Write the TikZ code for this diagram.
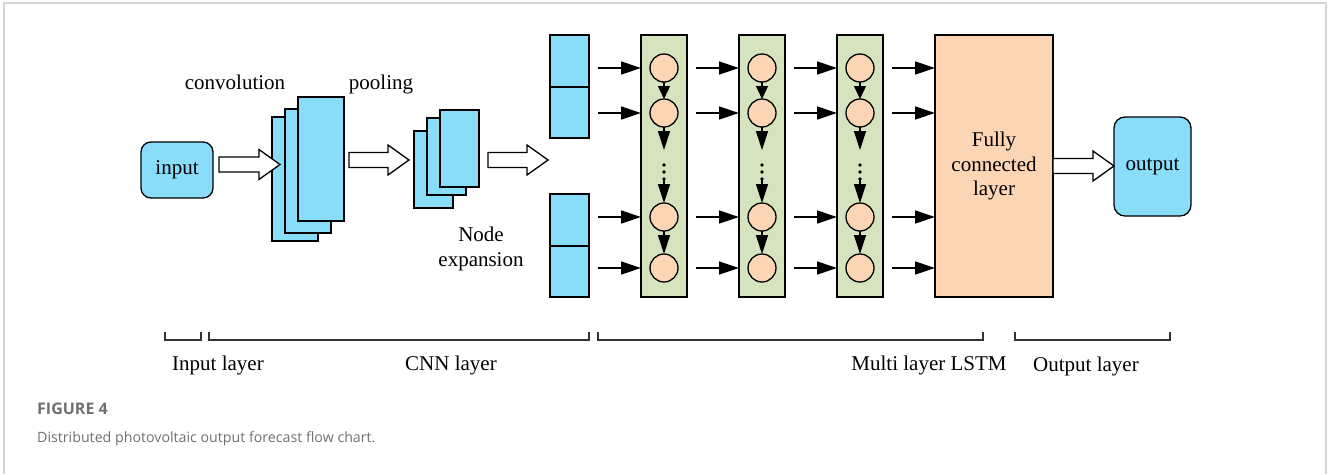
\documentclass[tikz,border=0pt]{standalone}
\usepackage{fontspec}
\setmainfont{Liberation Serif}
\newfontfamily\capfont{Open Sans}
\usetikzlibrary{arrows.meta,calc}

\definecolor{cellblue}{HTML}{89DDF8}
\definecolor{lstmgreen}{HTML}{D5E3BF}
\definecolor{peach}{HTML}{FCD5B5}
\definecolor{framegray}{HTML}{D6D6D6}
\definecolor{capgray}{HTML}{707070}
\definecolor{bracketgray}{HTML}{333333}

% hollow block arrow from #1 to the tip #2 (drawn along the y of #1)
\newcommand\blockarrow[2]{%
  \draw[blockarr] let \p1=#1, \p2=#2 in
    (\x1,\y1+7.5pt) -- (\x2-21pt,\y1+7.5pt) -- (\x2-21pt,\y1+15pt) -- (\x2,\y1) --
    (\x2-21pt,\y1-15pt) -- (\x2-21pt,\y1-7.5pt) -- (\x1,\y1-7.5pt) -- cycle;}

\begin{document}
\begin{tikzpicture}[x=1pt,y=-1pt,
  txt/.style={font=\fontsize{21}{25}\selectfont, inner sep=0pt},
  bluebox/.style={draw=black, fill=cellblue, line width=1.3pt, inner sep=0pt, outer sep=0pt},
  roundbox/.style={bluebox, rounded corners=10pt, font=\fontsize{21}{25}\selectfont},
  lstmcol/.style={draw=black, fill=lstmgreen, line width=1.3pt, inner sep=0pt, outer sep=0pt,
    minimum width=46pt, minimum height=262pt},
  cell/.style={circle, draw=black, fill=peach, line width=1.3pt, inner sep=0pt, outer sep=0pt,
    minimum size=28pt},
  dotmark/.style={circle, fill=black, inner sep=0pt, minimum size=3.8pt},
  harr/.style={-{Triangle[length=20pt,width=13pt]}, line width=1.3pt},
  varr/.style={-{Triangle[length=19pt,width=12pt]}, line width=1.3pt},
  varrshort/.style={-{Triangle[length=13pt,width=12pt]}, line width=1.3pt},
  blockarr/.style={draw=black, fill=white, line width=1.3pt, line join=miter},
  bracket/.style={draw=bracketgray, line width=1.6pt},
]
\useasboundingbox (0,0) rectangle (1328,474);

% outer frame (open at the bottom)
\draw[framegray, line width=1.5pt] (4,474) -- (4,3) -- (1326,3) -- (1326,474);

% input layer
\node[roundbox, minimum width=72pt, minimum height=56pt] (in) at (177,170) {input};

% convolution stack
\node[bluebox, minimum width=46pt, minimum height=124pt] (cv1) at (295,179) {};
\node[bluebox, minimum width=46pt, minimum height=124pt] (cv2) at (308,171) {};
\node[bluebox, minimum width=46pt, minimum height=124pt] (cv3) at (321,159) {};
\node[txt, anchor=base] (lconv) at (235,89) {convolution};

% pooling stack
\node[bluebox, minimum width=39pt, minimum height=77pt] (pl1) at (433.5,169.5) {};
\node[bluebox, minimum width=39pt, minimum height=77pt] (pl2) at (446.5,156.5) {};
\node[bluebox, minimum width=39pt, minimum height=77pt] (pl3) at (459.5,148.5) {};
\node[txt, anchor=base] (lpool) at (381,89) {pooling};

% node expansion
\node[bluebox, minimum width=39pt, minimum height=52pt] (ex1) at (569.5,61) {};
\node[bluebox, minimum width=39pt, minimum height=51pt] (ex2) at (569.5,112.5) {};
\node[bluebox, minimum width=39pt, minimum height=52pt] (ex3) at (569.5,220) {};
\node[bluebox, minimum width=39pt, minimum height=51pt] (ex4) at (569.5,271.5) {};
\node[txt, align=center] (lexp) at (481,249) {Node\\expansion};

% LSTM columns with their cells
\foreach \c/\x in {1/664, 2/762, 3/860} {
  \node[lstmcol] (col\c) at (\x,166) {};
  \foreach \r/\y in {1/68, 2/113, 3/217, 4/268}
    \node[cell] (c\c\r) at (\x,\y) {};
  \coordinate (m\c) at (\x,150);
  \node[dotmark] (da\c) at (\x,165) {};
  \node[dotmark] (db\c) at (\x,172) {};
  \node[dotmark] (dc\c) at (\x,179) {};
  \draw[varrshort] (c\c1) -- (c\c2);
  \draw[varr] (c\c2) -- (m\c);
  \draw[varr] (dc\c.center) -- (c\c3);
  \draw[varr] (c\c3) -- (c\c4);
}

% fully connected layer
\node[draw=black, fill=peach, line width=1.3pt, inner sep=0pt, outer sep=0pt,
  minimum width=118pt, minimum height=262pt, align=center,
  font=\fontsize{21}{24.5}\selectfont] (fc) at (994,166) {Fully\\connected\\layer};

% output layer
\node[roundbox, rounded corners=11pt, minimum width=77pt, minimum height=99pt] (out) at (1152.5,166.5) {output};

% row arrows feeding each column and the dense layer
\foreach \t in {col1, col2, col3, fc}
  \foreach \r in {1,...,4}
    \draw[harr] ($(\t.west |- c1\r)+(-43,0)$) -- (\t.west |- c1\r);

% hollow block arrows
\coordinate (a1s) at (219,164.5);
\coordinate (a1e) at (280,164.5);
\coordinate (a2s) at (349,160);
\coordinate (a2e) at (409,160);
\coordinate (a3s) at (488,160);
\coordinate (a3e) at (548,160);
\blockarrow{(a1s)}{(a1e)}
\blockarrow{(a2s)}{(a2e)}
\blockarrow{(a3s)}{(a3e)}
\blockarrow{(fc.east)}{(out.west)}

% layer brackets
\draw[bracket] (165,332) -- (165,340) -- (201,340) -- (201,332);
\draw[bracket] (209,332) -- (209,340) -- (589,340) -- (589,332);
\draw[bracket] (598,332) -- (598,340) -- (983,340) -- (983,332);
\draw[bracket] (1015,332) -- (1015,340) -- (1170,340) -- (1170,332);
\node[txt, anchor=base] (lin) at (218,370) {Input layer};
\node[txt, anchor=base] (lcnn) at (451,370) {CNN layer};
\node[txt, anchor=base] (llstm) at (929,370) {Multi layer LSTM};
\node[txt, anchor=base] (lout) at (1086,371) {Output layer};

% caption
\node[anchor=base west, inner sep=0pt, text=capgray,
  font=\capfont\bfseries\fontsize{16}{20}\selectfont] (fignum) at (37,414) {FIGURE 4};
\node[anchor=base west, inner sep=0pt, text=capgray,
  font=\capfont\fontsize{14.2}{18}\selectfont] (figcap) at (37,442)
  {Distributed photovoltaic output forecast flow chart.};
\end{tikzpicture}
\end{document}
